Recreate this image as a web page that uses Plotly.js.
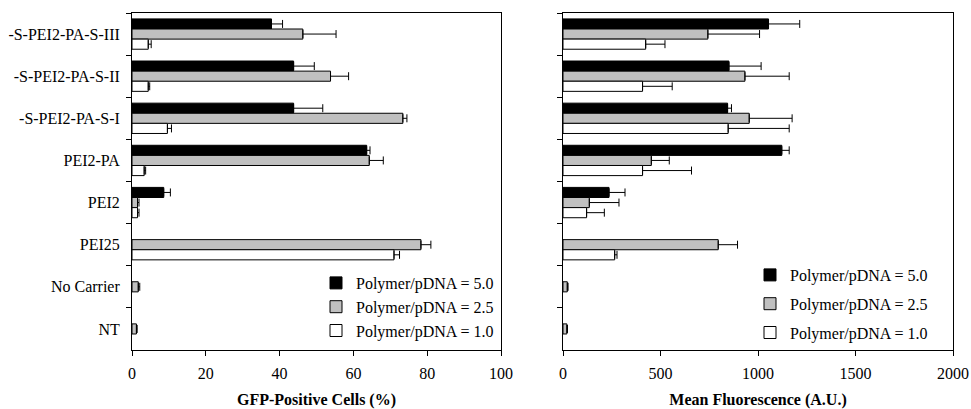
<!DOCTYPE html>
<html>
<head>
<meta charset="utf-8">
<script src="https://cdn.plot.ly/plotly-3.0.1.min.js"></script>
<style>
html,body{margin:0;padding:0;background:#fff;}
#chart{width:971px;height:409px;}
</style>
</head>
<body>
<div id="chart"></div>
<script>
// Categories listed top to bottom
const categories = ['-S-PEI2-PA-S-III','-S-PEI2-PA-S-II','-S-PEI2-PA-S-I','PEI2-PA','PEI2','PEI25','No Carrier','NT'];
const seriesNames = ['Polymer/pDNA = 5.0','Polymer/pDNA = 2.5','Polymer/pDNA = 1.0'];

// GFP-positive cells (%)
const gfp50    = [37.8, 43.8, 43.8, 63.6, 8.6, null, null, null];
const gfp50Err = [3.0, 5.6, 7.9, 0.9, 1.8, null, null, null];
const gfp25    = [46.3, 53.8, 73.4, 64.3, 1.5, 78.3, 1.7, 1.2];
const gfp25Err = [9.0, 4.9, 1.1, 3.8, 0.4, 2.7, 0.4, 0.2];
const gfp10    = [4.4, 4.4, 9.6, 3.3, 1.5, 71.0, null, null];
const gfp10Err = [0.8, 0.4, 1.1, 0.4, 0.4, 1.5, null, null];

// Mean fluorescence (A.U.)
const mf50    = [1054, 851, 844, 1122, 236, null, null, null];
const mf50Err = [160, 165, 20, 38, 82, null, null, null];
const mf25    = [743, 933, 955, 453, 135, 796, 22, 20];
const mf25Err = [265, 227, 220, 92, 152, 99, 4, 3];
const mf10    = [424, 408, 847, 408, 121, 265, null, null];
const mf10Err = [99, 152, 313, 251, 91, 12, null, null];

const fills = ['#000000', '#c0c0c0', '#ffffff'];
const FONT = 'Liberation Serif, Times New Roman, serif';

function zeros(arr){ return arr.map(v => v == null ? null : 0); }

function mk(vals, errs, idx, xa, ya, leg){
  return {
    type: 'bar', orientation: 'h',
    x: vals, y: categories,
    xaxis: xa, yaxis: ya,
    name: seriesNames[idx],
    legend: leg,
    legendgroup: leg + '_' + idx,
    marker: {color: fills[idx], line: {color: '#000', width: 1}},
    error_x: {type: 'data', array: errs, arrayminus: zeros(errs), symmetric: false,
              color: '#000', thickness: 1, width: 4},
    hoverinfo: 'x+y+name'
  };
}

const data = [
  mk(gfp50, gfp50Err, 0, 'x', 'y', 'legend'),
  mk(gfp25, gfp25Err, 1, 'x', 'y', 'legend'),
  mk(gfp10, gfp10Err, 2, 'x', 'y', 'legend'),
  mk(mf50, mf50Err, 0, 'x2', 'y2', 'legend2'),
  mk(mf25, mf25Err, 1, 'x2', 'y2', 'legend2'),
  mk(mf10, mf10Err, 2, 'x2', 'y2', 'legend2')
];

const W = 971, H = 409;
const yDom = [1 - 350/H, 1 - 13/H];

const axCommon = {
  showline: true, mirror: true, linecolor: '#000', linewidth: 1,
  showgrid: false, zeroline: false,
  ticks: 'outside', ticklen: 5, tickcolor: '#000', tickwidth: 1,
  tickfont: {family: FONT, size: 16, color: '#000'},
  automargin: false, fixedrange: true
};

const layout = {
  width: W, height: H,
  margin: {l: 0, r: 0, t: 0, b: 0},
  paper_bgcolor: '#fff', plot_bgcolor: '#fff',
  barmode: 'group', bargap: 0.28, bargroupgap: 0,
  font: {family: FONT, size: 16, color: '#000'},
  xaxis: Object.assign({}, axCommon, {
    domain: [132/W, 501/W], anchor: 'y',
    range: [0, 100], dtick: 20, ticklabelstandoff: 4,
    title: {text: 'GFP-Positive Cells (%)', font: {family: FONT, size: 16, weight: 'bold'}, standoff: 16}
  }),
  yaxis: Object.assign({}, axCommon, {
    domain: yDom, anchor: 'x',
    type: 'category', categoryorder: 'array', categoryarray: categories,
    autorange: 'reversed', tickson: 'boundaries', ticklabelstandoff: 8
  }),
  xaxis2: Object.assign({}, axCommon, {
    domain: [563/W, 953/W], anchor: 'y2',
    range: [0, 2000], dtick: 500, ticklabelstandoff: 4,
    title: {text: 'Mean Fluorescence (A.U.)', font: {family: FONT, size: 16, weight: 'bold'}, standoff: 21}
  }),
  yaxis2: Object.assign({}, axCommon, {
    domain: yDom, anchor: 'x2',
    type: 'category', categoryorder: 'array', categoryarray: categories,
    autorange: 'reversed', tickson: 'boundaries', showticklabels: false
  }),
  legend: {
    x: 316/W, y: 1 - 266/H, xanchor: 'left', yanchor: 'top',
    bgcolor: 'rgba(0,0,0,0)', borderwidth: 0,
    tracegroupgap: 0,
    font: {family: FONT, size: 16, color: '#000'}
  },
  legend2: {
    x: 750/W, y: 1 - 258/H, xanchor: 'left', yanchor: 'top',
    bgcolor: 'rgba(0,0,0,0)', borderwidth: 0,
    tracegroupgap: 5,
    font: {family: FONT, size: 16, color: '#000'}
  },
  showlegend: true
};

Plotly.newPlot('chart', data, layout, {displayModeBar: false, staticPlot: true});
</script>
</body>
</html>
